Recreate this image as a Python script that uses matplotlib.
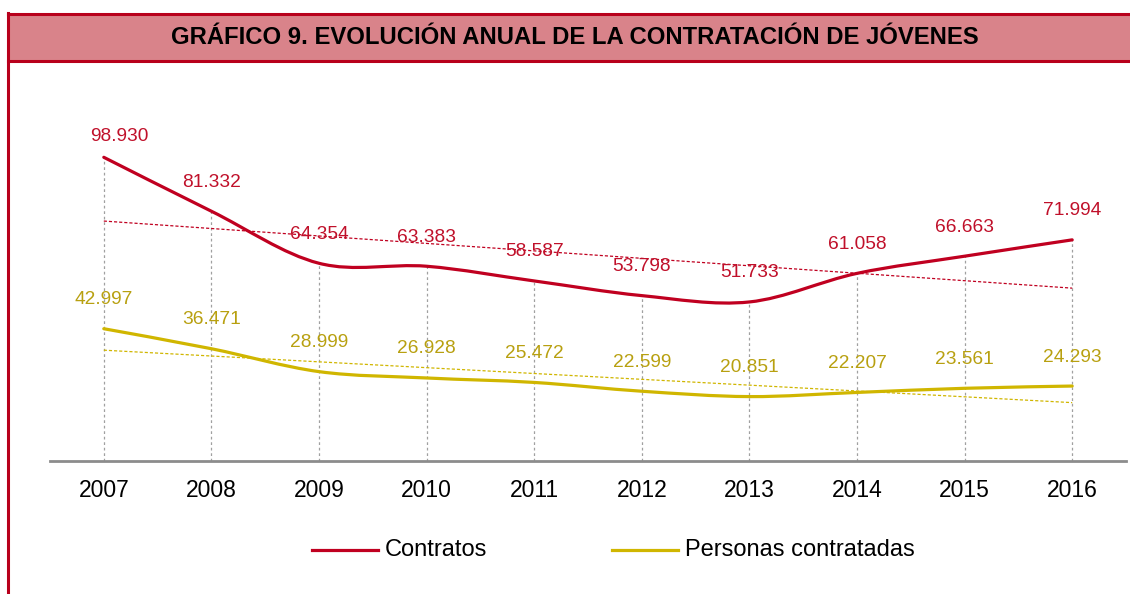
import numpy as np
import matplotlib
matplotlib.use("Agg")
import matplotlib.pyplot as plt
from matplotlib.path import Path
from matplotlib.patches import PathPatch, Rectangle
from matplotlib.lines import Line2D

plt.rcParams['font.family'] = ['Liberation Sans', 'DejaVu Sans']

title = "GRÁFICO 9. EVOLUCIÓN ANUAL DE LA CONTRATACIÓN DE JÓVENES"
years = ["2007", "2008", "2009", "2010", "2011", "2012", "2013", "2014", "2015", "2016"]
contratos = [98930, 81332, 64354, 63383, 58587, 53798, 51733, 61058, 66663, 71994]
personas = [42997, 36471, 28999, 26928, 25472, 22599, 20851, 22207, 23561, 24293]
series_names = ["Contratos", "Personas contratadas"]

RED = "#C00020"
RED_TXT = "#C0102A"
YEL = "#D0B600"
YEL_TXT = "#B8A010"
BORDER = "#B8001C"
BAR = "#D9838A"

W, H = 1130, 594
fig = plt.figure(figsize=(W / 100, H / 100), dpi=100)

def fx(px):
    return px / W

def fy(py):
    return 1 - py / H

# Title bar
fig.patches.append(Rectangle((fx(8), fy(61)), 1.0, fy(14) - fy(61), transform=fig.transFigure,
                             facecolor=BAR, edgecolor='none', zorder=0))
fig.add_artist(Line2D([fx(8), 1.0], [fy(14), fy(14)], color=BORDER, lw=2.2, transform=fig.transFigure))
fig.add_artist(Line2D([fx(8), 1.0], [fy(61), fy(61)], color=BORDER, lw=2.2, transform=fig.transFigure))
fig.add_artist(Line2D([fx(8), fx(8)], [fy(13), 0.0], color=BORDER, lw=2.2, transform=fig.transFigure))
fig.text(fx(574.5), fy(38), title, ha='center', va='center', fontsize=17.2, fontweight='bold', color='black')

# Axes
ax_top, ax_bot = 100, 460.5
ax = fig.add_axes([fx(50), fy(ax_bot), fx(1126) - fx(50), fy(ax_top) - fy(ax_bot)])
scale = (460.5 - 157.3) / 98930.0
ax.set_xlim(-0.5, len(years) - 0.5)
ax.set_ylim(0, (ax_bot - ax_top) / scale)
for s in ['top', 'right', 'left']:
    ax.spines[s].set_visible(False)
ax.spines['bottom'].set_color('#8C8C8C')
ax.spines['bottom'].set_linewidth(2)
ax.set_yticks([])
x = np.arange(len(years))
ax.set_xticks(x)
ax.set_xticklabels(years, fontsize=16.5)
ax.tick_params(axis='x', length=0, pad=13.5)

# Drop lines
tops = np.maximum(contratos, personas)
ax.vlines(x, 0, tops, colors='#A0A0A0', linestyles=(0, (2.2, 2.2)), lw=0.9, zorder=1)


def smooth_path(xs, ys):
    pts = np.column_stack([xs, ys]).astype(float)
    n = len(pts)
    verts = [pts[0]]
    codes = [Path.MOVETO]
    for i in range(n - 1):
        p0 = pts[i - 1] if i > 0 else pts[i]
        p1 = pts[i]
        p2 = pts[i + 1]
        p3 = pts[i + 2] if i + 2 < n else pts[i + 1]
        c1 = p1 + (p2 - p0) / 6.0
        c2 = p2 - (p3 - p1) / 6.0
        verts += [c1, c2, p2]
        codes += [Path.CURVE4] * 3
    return Path(verts, codes)

for vals, col in [(personas, YEL), (contratos, RED)]:
    ax.add_patch(PathPatch(smooth_path(x, vals), facecolor='none', edgecolor=col, lw=2.3,
                           zorder=3, capstyle='round', joinstyle='round'))
    coef = np.polyfit(x, vals, 1)
    ax.plot([x[0], x[-1]], np.polyval(coef, [x[0], x[-1]]), color=col, lw=0.9,
            ls=(0, (2.5, 1.6)), zorder=2)

def fmt(v):
    return f"{v:,}".replace(",", ".")

for i, v in enumerate(contratos):
    dx, dy = (16, 21) if i == 0 else (0, 29)
    ax.annotate(fmt(v), (x[i], v), xytext=(dx * 0.72, dy * 0.72), textcoords='offset points',
                ha='center', va='center', fontsize=13.8, color=RED_TXT, zorder=5)
for i, v in enumerate(personas):
    ax.annotate(fmt(v), (x[i], v), xytext=(0, 29 * 0.72), textcoords='offset points',
                ha='center', va='center', fontsize=13.8, color=YEL_TXT, zorder=5)

# Legend
for (x0, x1, tx), col, name in [((312, 378, 385), RED, series_names[0]), ((612, 678, 685), YEL, series_names[1])]:
    fig.add_artist(Line2D([fx(x0), fx(x1)], [fy(550), fy(550)], color=col, lw=2.3, transform=fig.transFigure))
    fig.text(fx(tx), fy(550), name, ha='left', va='center', fontsize=17, color='black')

fig.savefig("out.png", dpi=100, facecolor='white')
